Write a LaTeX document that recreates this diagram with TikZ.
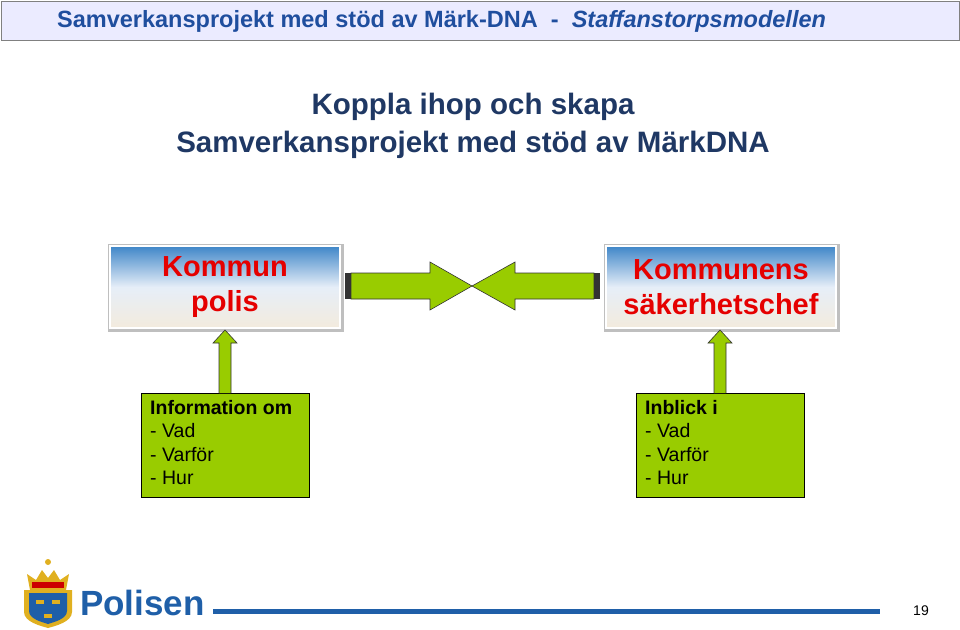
\documentclass[tikz,border=0pt]{standalone}
\usepackage{fontspec}
\setmainfont{Liberation Sans}
\definecolor{hdrblue}{HTML}{1F4E9E}
\definecolor{ttl}{HTML}{1F3864}
\definecolor{grn}{HTML}{99CC00}
\definecolor{polblue}{HTML}{1F5FA8}
\definecolor{gold}{HTML}{E0B020}
\definecolor{btop}{HTML}{3F86C8}
\definecolor{bmid}{HTML}{E6EEF8}
\definecolor{bbot}{HTML}{F3EBDD}
\tikzset{
 shadowbox/.style={fill=black!25,minimum width=236pt,minimum height=88pt,inner sep=0},
 topbox/.style={draw=white,line width=2pt,top color=btop,bottom color=bbot,middle color=bmid,minimum width=230pt,minimum height=82pt,inner sep=0},
 redtxt/.style={text=red!90!black,font=\bfseries\fontsize{29}{35}\selectfont,align=center},
 info/.style={draw=black,fill=grn,line width=0.6pt,minimum width=168pt,minimum height=104pt,anchor=north west,inner sep=0},
 infotxt/.style={anchor=north west,align=left,font=\fontsize{19.5}{23.5}\selectfont,text=black,inner sep=0},
 bigarrow/.style={fill=grn,draw=black!80,line width=0.6pt},
}
\begin{document}
\begin{tikzpicture}[x=1pt,y=-1pt]
\useasboundingbox (0,0) rectangle (960,629);
% header
\node[draw=black!50,fill=blue!8,minimum width=958pt,minimum height=39pt,anchor=north west,inner sep=0] (hdr) at (1,1) {};
\node[anchor=west,text=hdrblue,font=\bfseries\fontsize{23.5}{26}\selectfont,inner sep=0] (hdrt) at (57,21) {Samverkansprojekt med stöd av Märk-DNA \ - \ \textit{Staffanstorpsmodellen}};
% title
\node[text=ttl,font=\bfseries\fontsize{29.5}{38}\selectfont,align=center] (title) at (473,126) {Koppla ihop och skapa\\Samverkansprojekt med stöd av MärkDNA};
% boxes
\node[shadowbox] (kps) at (226,288) {};
\node[topbox] (kp) at (225,287) {};
\node[redtxt] (kpt) at (kp) {Kommun\\polis};
\node[shadowbox] (kss) at (722,288) {};
\node[topbox] (ks) at (721,287) {};
\node[redtxt] (kst) at (ks) {Kommunens\\säkerhetschef};
% horizontal arrows
\coordinate (m) at (472,286);
\draw[bigarrow] (351,273) -- (430,273) -- (430,262) -- (m) -- (430,310) -- (430,299) -- (351,299) -- cycle;
\fill[black!80] (345,273) rectangle (351,299);
\draw[bigarrow] (594,273) -- (515,273) -- (515,262) -- (m) -- (515,310) -- (515,299) -- (594,299) -- cycle;
\fill[black!80] (594,273) rectangle (600,299);
% info boxes
\node[info] (il) at (141,393) {};
\node[infotxt] (ilt) at (150,400) {\textbf{Information om}\\- Vad\\- Varför\\- Hur};
\node[info] (ir) at (636,393) {};
\node[infotxt] (irt) at (645,400) {\textbf{Inblick i}\\- Vad\\- Varför\\- Hur};
% up arrows
\foreach \x in {225,720}{
 \draw[bigarrow] (\x-6,393) -- (\x-6,343) -- (\x-12,343) -- (\x,330) -- (\x+12,343) -- (\x+6,343) -- (\x+6,393);
}
% footer
\node[text=polblue,font=\bfseries\fontsize{35}{38}\selectfont,inner sep=0,anchor=west] (pol) at (80,603) {Polisen};
\fill[polblue] (213,609) rectangle (880,614);
\node[font=\fontsize{14}{16}\selectfont] (pg) at (921,611) {19};
% logo
\fill[gold] (24,590) -- (72,590) -- (72,612) .. controls (72,622) and (55,626) .. (48,628) .. controls (41,626) and (24,622) .. (24,612) -- cycle;
\fill[polblue] (29,593) -- (67,593) -- (67,611) .. controls (67,619) and (54,622) .. (48,624) .. controls (42,622) and (29,619) .. (29,611) -- cycle;
\fill[gold] (30,590) -- (27,574) -- (36,580) -- (42,570) -- (48,578) -- (54,570) -- (60,580) -- (69,574) -- (66,590) -- cycle;
\fill[red!80!black] (32,582) rectangle (64,588);
\fill[gold] (48,562) circle (3);
\foreach \p in {(40,600),(56,600),(48,614)} \fill[gold] \p ++(-4,0) rectangle ++(8,4);
\end{tikzpicture}
\end{document}
